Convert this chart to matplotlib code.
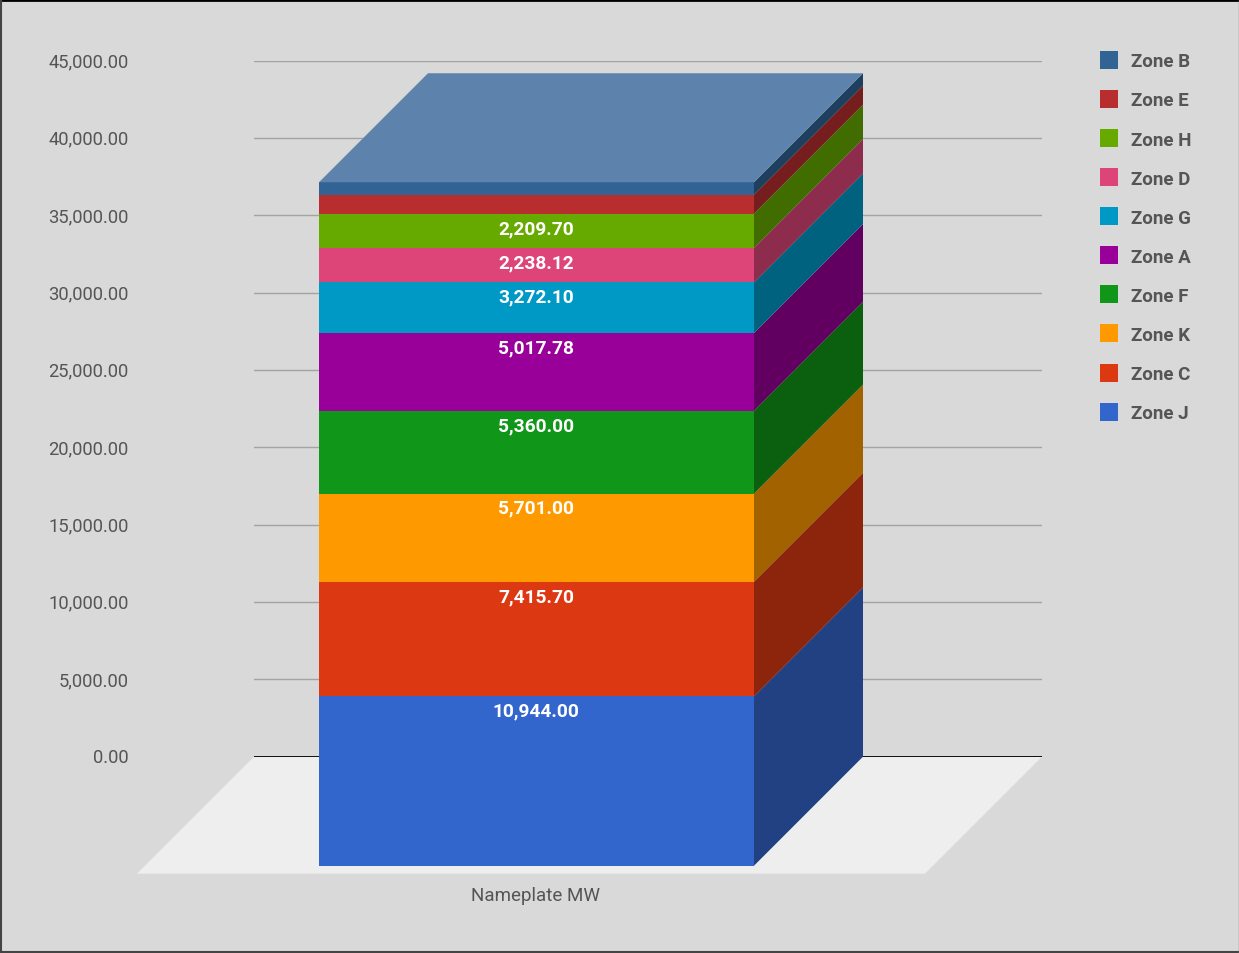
import matplotlib
matplotlib.use("Agg")
import matplotlib.pyplot as plt
from matplotlib.patches import Polygon, Patch
from matplotlib.lines import Line2D
from matplotlib.colors import to_rgb
from matplotlib.transforms import ScaledTranslation

plt.rcParams['font.family'] = ['Roboto', 'DejaVu Sans']

category = "Nameplate MW"
zones = ["Zone J", "Zone C", "Zone K", "Zone F", "Zone A", "Zone G", "Zone D", "Zone H", "Zone E", "Zone B"]
values = [10944.00, 7415.70, 5701.00, 5360.00, 5017.78, 3272.10, 2238.12, 2209.70, 1230.00, 800.00]
labels = ["10,944.00", "7,415.70", "5,701.00", "5,360.00", "5,017.78", "3,272.10", "2,238.12", "2,209.70", None, None]
colors = ["#3366cc", "#dc3912", "#ff9900", "#109618", "#990099", "#0099c6", "#dd4477", "#66aa00", "#b82e2e", "#316395"]
yticks = [0, 5000, 10000, 15000, 20000, 25000, 30000, 35000, 40000, 45000]

W, H = 1239, 954
BG, TXT = "#d9d9d9", "#555555"
fig = plt.figure(figsize=(W / 100, H / 100), dpi=100, facecolor=BG)
# plot area: x 254..1042 px, y 61..757 px
ax = fig.add_axes([254 / W, 1 - 757.7 / H, 788 / W, 696 / H], facecolor="none")
ax.set_xlim(254, 1042)
ax.set_ylim(0, 45000)
U = 45000 / 696  # value units per pixel
for s in ax.spines.values():
    s.set_visible(False)

ax.set_yticks(yticks)
ax.set_yticklabels([f"{v:,.2f}" for v in yticks], color=TXT, fontsize=13.2)
ax.tick_params(axis="y", length=0, pad=(254 - 128.7) * 0.72)
up = ScaledTranslation(0, 1.3 / 100, fig.dpi_scale_trans)
for t in ax.get_yticklabels():
    t.set_transform(t.get_transform() + up)
ax.grid(axis="y", color="#a3a3a3", lw=1.0, zorder=0)
ax.set_axisbelow(True)
ax.set_xticks([535.7])
ax.set_xticklabels([category], color=TXT, fontsize=13.5)
ax.tick_params(axis="x", length=0, pad=(886 - 757) * 0.72)

# floor
ax.add_patch(Polygon([(254, 0), (1042, 0), (925, -117 * U), (137, -117 * U)],
                     closed=True, fc="#eeeeee", ec="none", clip_on=False, zorder=1))
ax.plot([254, 1042], [0, 0], color="#000000", lw=1.3, zorder=1.5, solid_capstyle="butt")

# stacked 3-D column
x0, x1, dx = 319, 754, 109
front = -dx * U
def darker(c, f=0.64):
    r, g, b = to_rgb(c)
    return (r * f, g * f, b * f)

base = 0.0
for zone, v, lab, c in zip(zones, values, labels, colors):
    top = base + v
    ax.add_patch(Polygon([(x0, front + base), (x1, front + base), (x1, front + top), (x0, front + top)],
                         closed=True, fc=c, ec="none", clip_on=False, zorder=3))
    ax.add_patch(Polygon([(x1, front + base), (x1 + dx, base), (x1 + dx, top), (x1, front + top)],
                         closed=True, fc=darker(c), ec="none", clip_on=False, zorder=3))
    if lab:
        ax.text((x0 + x1) / 2 - 0.4, front + top - 14.3 * U, lab, color="white", fontsize=13.8, fontweight="bold",
                ha="center", va="center", zorder=5, clip_on=False)
    base = top
ax.add_patch(Polygon([(x0, front + base), (x1, front + base), (x1 + dx, base), (x0 + dx, base)],
                     closed=True, fc="#5d83ad", ec="none", clip_on=False, zorder=3))

# legend, reversed stack order
handles = [Patch(fc=c, ec="none", label=z) for z, c in zip(zones[::-1], colors[::-1])]
leg = fig.legend(handles=handles, loc="upper left", bbox_to_anchor=(1100 / W, 1 - 52 / H), bbox_transform=fig.transFigure,
                 frameon=False, fontsize=13.5, borderpad=0, borderaxespad=0, handlelength=0.96, handleheight=1.1,
                 handletextpad=0.69, labelspacing=1.05, labelcolor=TXT)
for t in leg.get_texts():
    t.set_fontweight("bold")

# border
for (xs, ys, col, lw) in [((0, 1), (1 - 1 / H, 1 - 1 / H), "#000000", 2.0),
                          ((1 / W, 1 / W), (0, 1), "#444444", 1.5),
                          ((0, 1), (1 / H, 1 / H), "#444444", 1.5),
                          ((1 - 0.5 / W, 1 - 0.5 / W), (0, 1), "#888888", 1.0)]:
    fig.add_artist(Line2D(xs, ys, color=col, lw=lw, transform=fig.transFigure))

fig.savefig("out.png", dpi=100, facecolor=BG)
